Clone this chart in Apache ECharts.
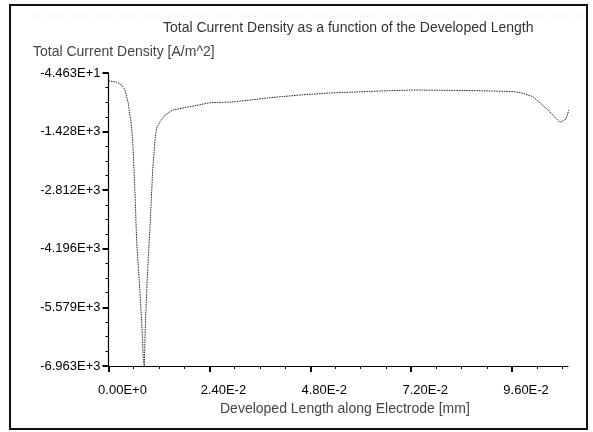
<!DOCTYPE html>
<html>
<head>
<meta charset="utf-8">
<script src="https://cdn.jsdelivr.net/npm/echarts@6/dist/echarts.min.js"></script>
<style>
html,body{margin:0;padding:0;background:#fff;}
#chart{width:593px;height:432px;}
</style>
</head>
<body>
<div id="chart"></div>
<script>
// Developed length along electrode [mm]
const lengthValues = [0.0000, 0.00178, 0.00314, 0.00392, 0.00471, 0.00528, 0.00576, 0.00630, 0.00671, 0.00749, 0.00804, 0.00828, 0.00852, 0.00875, 0.00923, 0.00987, 0.01051, 0.01106, 0.01146, 0.01225, 0.01344, 0.01534, 0.01939, 0.02414, 0.02961, 0.03770, 0.04555, 0.05269, 0.06458, 0.07243, 0.08599, 0.09622, 0.09860, 0.10097, 0.10430, 0.10739, 0.10882, 0.10953, 0.11025];
// Total current density [A/m^2]
const densityValues = [-226, -257, -328, -446, -760, -1154, -1626, -2878, -4058, -5239, -6183, -6821, -6963, -6042, -4861, -3681, -2335, -1626, -1343, -1194, -1036, -918, -840, -746, -729, -635, -564, -517, -470, -446, -458, -481, -524, -604, -895, -1213, -1131, -918, -635];

const xTickValues = [0, 0.024, 0.048, 0.072, 0.096];
const xTickLabels = ['0.00E+0', '2.40E-2', '4.80E-2', '7.20E-2', '9.60E-2'];
const yTickValues = [-44.63, -1428, -2812, -4196, -5579, -6963];
const yTickLabels = ['-4.463E+1', '-1.428E+3', '-2.812E+3', '-4.196E+3', '-5.579E+3', '-6.963E+3'];

const xMin = 0, xMax = 0.1093;
const yMin = -6963, yMax = -44.63;

const titleText = 'Total Current Density as a function of the Developed Length';
const yName = 'Total Current Density [A/m^2]';
const xName = 'Developed Length along Electrode [mm]';

// minor tick positions: 4 subdivisions between majors
function minorTicks(majors, lo, hi) {
  const out = [];
  const sub = Math.abs(majors[1] - majors[0]) / 4;
  const mn = Math.min.apply(null, majors), mx = Math.max.apply(null, majors);
  for (let v = mn - 4 * sub; v <= mx + 4 * sub + 1e-12; v += sub) {
    if (v >= Math.min(lo, hi) - 1e-9 && v <= Math.max(lo, hi) + 1e-9) out.push(v);
  }
  return out;
}
const xMinor = minorTicks(xTickValues, xMin, xMax);
const yMinor = minorTicks(yTickValues.slice().sort((a,b)=>a-b), yMin, yMax);

function nearestLabel(vals, labels, v) {
  let best = 0, bd = Infinity;
  vals.forEach((t, i) => { const d = Math.abs(t - v); if (d < bd) { bd = d; best = i; } });
  return labels[best];
}

const seriesData = lengthValues.map((x, i) => [x, densityValues[i]]);

const FONT = '"Liberation Sans", Arial, sans-serif';
const chart = echarts.init(document.getElementById('chart'), null, {renderer: 'canvas'});
chart.setOption({
  animation: false,
  backgroundColor: '#fff',
  title: [
    {text: titleText, left: 163, top: 21, padding: 0, textStyle: {fontFamily: FONT, fontSize: 14, fontWeight: 'normal', color: '#333'}},
    {text: yName, left: 33, top: 45, padding: 0, textStyle: {fontFamily: FONT, fontSize: 14, fontWeight: 'normal', color: '#444'}},
    {text: xName, left: 220, top: 402, padding: 0, textStyle: {fontFamily: FONT, fontSize: 14, fontWeight: 'normal', color: '#444'}}
  ],
  graphic: [
    {type: 'rect', shape: {x: 10, y: 5, width: 577, height: 424}, style: {fill: 'none', stroke: '#111', lineWidth: 2}, silent: true},
    {type: 'line', shape: {x1: 33, y1: 16, x2: 585, y2: 16}, style: {stroke: '#d8d8d8', lineWidth: 1, lineDash: [1, 2]}, silent: true}
  ],
  grid: {left: 108.5, right: 25, top: 73, bottom: 66, containLabel: false},
  xAxis: [
    {
      type: 'value', min: xMin, max: xMax, position: 'bottom',
      axisLine: {show: true, onZero: false, lineStyle: {color: '#000', width: 1.2}},
      axisTick: {show: true, inside: false, length: 6, customValues: xTickValues, lineStyle: {color: '#000', width: 2}},
      axisLabel: {show: true, customValues: xTickValues, margin: 18, padding: [0, 0, 0, 28], fontFamily: FONT, fontSize: 13, color: '#000',
        formatter: v => nearestLabel(xTickValues, xTickLabels, v)},
      splitLine: {show: false}
    },
    {
      type: 'value', min: xMin, max: xMax, position: 'bottom',
      axisLine: {show: false},
      axisTick: {show: true, inside: false, length: 3, customValues: xMinor, lineStyle: {color: '#000', width: 1}},
      axisLabel: {show: false},
      splitLine: {show: false}
    }
  ],
  yAxis: [
    {
      type: 'value', min: yMin, max: yMax, position: 'left',
      axisLine: {show: true, onZero: false, lineStyle: {color: '#000', width: 1.2}},
      axisTick: {show: true, inside: false, length: 6, customValues: yTickValues, lineStyle: {color: '#000', width: 2}},
      axisLabel: {show: true, customValues: yTickValues, margin: 8, fontFamily: FONT, fontSize: 13, color: '#000',
        formatter: v => nearestLabel(yTickValues, yTickLabels, v)},
      splitLine: {show: false}
    },
    {
      type: 'value', min: yMin, max: yMax, position: 'left',
      axisLine: {show: false},
      axisTick: {show: true, inside: false, length: 3, customValues: yMinor, lineStyle: {color: '#000', width: 1}},
      axisLabel: {show: false},
      splitLine: {show: false}
    }
  ],
  series: [{
    type: 'line',
    data: seriesData,
    xAxisIndex: 0, yAxisIndex: 0,
    showSymbol: false,
    clip: false,
    lineStyle: {color: '#222', width: 1, type: [1.5, 1]}
  }]
});
</script>
</body>
</html>
